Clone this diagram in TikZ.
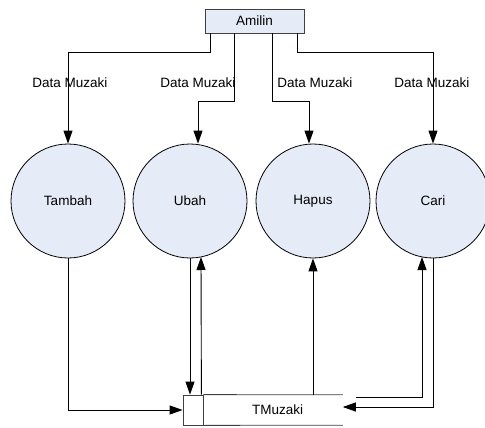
\documentclass[tikz,border=0pt]{standalone}
\usepackage{fontspec}
\setmainfont{Liberation Sans}
\usepackage{tikz}
\usepackage{xcolor}
\usetikzlibrary{arrows.meta, positioning, calc}

\definecolor{procfill}{RGB}{230,236,247}

\begin{document}
\begin{tikzpicture}[x=1pt, y=-1pt,
    every node/.style={font=\fontsize{13.5}{16}\selectfont},
    proc/.style={circle, draw, line width=0.8pt, fill=procfill, minimum size=114pt, inner sep=0pt},
    ent/.style={rectangle, draw=black!75, line width=0.8pt, fill=procfill, minimum width=99pt, minimum height=24pt, inner sep=0pt},
    flow/.style={line width=0.9pt, -{Triangle[length=13pt, width=9pt]}},
    line/.style={line width=0.8pt}]
\useasboundingbox (0,0) rectangle (485,428);

% External entity
\node[ent] (amilin) at (254.5,21) {Amilin};

% Processes
\foreach \name/\lbl/\x in {tambah/Tambah/68, ubah/Ubah/190, hapus/Hapus/313, cari/Cari/433} {
    \node[proc] (\name) at (\x,201) {\lbl};
}

% Data store
\node[draw=black!75, line width=0.8pt, minimum width=20pt, minimum height=30pt, inner sep=0pt] (tmid) at (193,410) {};
\node[minimum width=139pt, minimum height=30pt, inner sep=0pt, anchor=west] (tmuzaki) at (tmid.east) {\hspace{9pt}TMuzaki};
\draw[line, black!75] (tmid.north east) -- (tmuzaki.north east);
\draw[line, black!75] (tmid.south east) -- (tmuzaki.south east);

% Flows from Amilin
\draw[flow] ([xshift=6pt]amilin.south west) -- ++(0,19) -| (tambah.north);
\draw[flow] ([xshift=30pt]amilin.south west) -- ++(0,68) -| ([xshift=8pt]ubah.north);
\draw[flow] ([xshift=-32pt]amilin.south east) -- ++(0,68) -| ([xshift=-4pt]hapus.north);
\draw[flow] ([xshift=-7pt]amilin.south east) -- ++(0,19) -| (cari.north);

% Labels
\node (dm1) at (70,83) {Data Muzaki};
\node (dm2) at (198,83) {Data Muzaki};
\node (dm3) at (315,83) {Data Muzaki};
\node (dm4) at (432,83) {Data Muzaki};

% Flows to and from TMuzaki
\draw[flow] (tambah.south) |- (tmid.west);
\draw[flow] (ubah.south) -- (ubah.south |- tmid.north);
\draw[flow] ([xshift=-2pt]tmid.north east) -- ($(ubah.center)+(11,56)$);
\draw[flow] (tmuzaki.north -| hapus.south) -- (hapus.south);
\coordinate (cin) at ([xshift=13pt,yshift=-3pt]tmuzaki.north east);
\draw[flow] (cin) -| ($(cari.center)+(-11,56)$);
\draw[flow] (cari.south) |- ([yshift=3pt]tmuzaki.east);
\end{tikzpicture}
\end{document}
